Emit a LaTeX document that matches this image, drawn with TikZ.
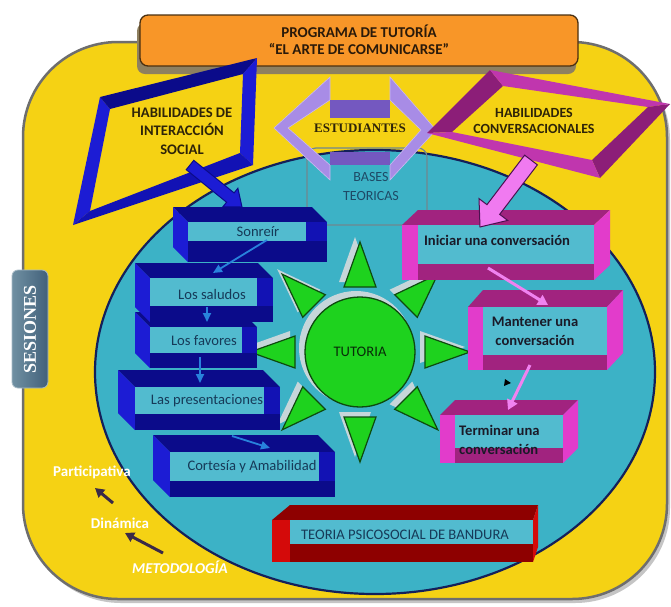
\documentclass[tikz,border=0pt]{standalone}
\usepackage{fontspec}
\setmainfont{Carlito}
\newfontfamily\serifbold{Liberation Serif}
\usepackage{tikz}
\usetikzlibrary{calc,arrows.meta}
\definecolor{sunyellow}{HTML}{F5D214}
\definecolor{framegray}{HTML}{6E6E6E}
\definecolor{lagoon}{HTML}{3CB2C6}
\definecolor{rimnavy}{HTML}{14205A}
\definecolor{facecyan}{HTML}{52BBCF}
\definecolor{titleorange}{HTML}{F89628}
\definecolor{titleedge}{HTML}{4A3010}
\definecolor{titleshadow}{HTML}{8E8060}
\definecolor{titleink}{HTML}{2A1A0A}
\definecolor{slatelight}{HTML}{7090A2}
\definecolor{slatedark}{HTML}{41607A}
\definecolor{navyface}{HTML}{0B0B8A}
\definecolor{royalface}{HTML}{1C1CD4}
\definecolor{midblue}{HTML}{1212B4}
\definecolor{plumface}{HTML}{A1237F}
\definecolor{orchidface}{HTML}{E23CCB}
\definecolor{plumdark}{HTML}{8C1E78}
\definecolor{magentaband}{HTML}{C036AE}
\definecolor{lavband}{HTML}{A88CE6}
\definecolor{lavdark}{HTML}{7458C0}
\definecolor{sungreen}{HTML}{1ED21E}
\definecolor{sunedge}{HTML}{0E4A0E}
\definecolor{sunshade}{HTML}{C6D6DA}
\definecolor{wine}{HTML}{8E0000}
\definecolor{scarlet}{HTML}{D40A0A}
\definecolor{labelink}{HTML}{163A58}
\definecolor{inkdark}{HTML}{1A1A28}
\definecolor{inkbrown}{HTML}{2E2408}
\definecolor{basesline}{HTML}{6F8790}
\definecolor{basesink}{HTML}{1E4A66}
\definecolor{skyline}{HTML}{2882DC}
\definecolor{pinklink}{HTML}{F082F0}
\definecolor{darklink}{HTML}{3A2A48}
\definecolor{pinkarrow}{HTML}{F07AF0}
\definecolor{arrowedge}{HTML}{4A1050}
\tikzstyle{cube text}=[inner sep=0pt, text=labelink, font=\fontsize{14.6}{17}\selectfont]
\tikzstyle{plum text}=[inner sep=0pt, text=inkdark, font=\fontsize{14.6}{19}\selectfont\bfseries, align=center]
\tikzstyle{frame text}=[inner sep=0pt, text=inkbrown, font=\fontsize{14.6}{18.5}\selectfont\bfseries, align=center]
\tikzstyle{white text}=[inner sep=0pt, text=white, font=\fontsize{15}{17}\selectfont\bfseries]
\tikzstyle{sky link}=[draw=skyline, line width=1.8pt, -{Triangle[width=8pt,length=9pt]}]
\tikzstyle{pink link}=[draw=pinklink, line width=3pt, -{Triangle[width=11pt,length=10pt]}]
\tikzstyle{dark link}=[draw=darklink, line width=3pt, -{Triangle[width=10pt,length=9pt]}]
% box seen from the left: x1 y1 x2 y2 depth band
\newcommand{\bluecube}[6]{%
  \fill[navyface] (#1,#2) -- ({#3-#5},#2) -- (#3,{#2+#5}) -- ({#1+#5},{#2+#5}) -- cycle;
  \fill[royalface] (#1,#2) -- ({#1+#5},{#2+#5}) -- ({#1+#5},#4) -- (#1,{#4-#5}) -- cycle;
  \fill[midblue] ({#1+#5},{#2+#5}) rectangle (#3,#4);
  \fill[navyface] ({#1+#5},{#4-#6}) rectangle (#3,#4);
  \fill[facecyan] ({#1+#5},{#2+#5}) rectangle ({#3-#6},{#4-#6});}
% box seen from the right: x1 y1 x2 y2 dx dy band top side
\newcommand{\plumcube}[9]{%
  \fill[#8] (#1,{#2+#6}) -- ({#1+#7},#2) -- (#3,#2) -- ({#3-#5},{#2+#6}) -- cycle;
  \fill[#9] ({#3-#5},{#2+#6}) -- (#3,#2) -- (#3,{#4-#6}) -- ({#3-#5},#4) -- cycle;
  \fill[#9] (#1,{#2+#6}) rectangle ({#1+#7},#4);
  \fill[#8] ({#1+#7},{#4-#7}) rectangle ({#3-#5},#4);
  \fill[facecyan] ({#1+#7},{#2+#6}) rectangle ({#3-#5},{#4-#7});}
% wide arrow: style from to shaft head headlength
\newcommand{\fatarrow}[6]{%
  \path ($(#3)!#6!(#2)$) coordinate (fa-h);
  \draw[#1] ($(#2)!#4!90:(#3)$) -- ($(fa-h)!#4!-90:(#2)$) -- ($(fa-h)!#5!-90:(#2)$) -- (#3)
    -- ($(fa-h)!#5!90:(#2)$) -- ($(fa-h)!#4!90:(#2)$) -- ($(#2)!#4!-90:(#3)$) -- cycle;}
\begin{document}
\begin{tikzpicture}[x=1pt,y=-1pt]\fontsize{14.6}{17}\selectfont
\useasboundingbox (0,0) rectangle (671,606);
\fill[white] (0,0) rectangle (671,606);

% yellow board and side tab
\fill[framegray!40, rounded corners=95pt] (26,45) rectangle (670,603);
\draw[fill=sunyellow, draw=framegray, line width=2.5pt, rounded corners=95pt] (23,42) rectangle (667,599);
\shade[left color=slatelight, right color=slatedark, rounded corners=6pt] (12,270) rectangle (48,388);
\draw[slatelight!60!white, line width=0.8pt, rounded corners=6pt] (12,270) rectangle (48,388);
\node[rotate=90, inner sep=0pt, text=white, font={\serifbold\fontsize{18}{18}\selectfont\bfseries}] (sesiones) at (30,329) {SESIONES};

% title
\fill[titleshadow, rounded corners=8pt] (137,23) rectangle (576,74);
\draw[fill=titleorange, draw=titleedge, line width=1.3pt, rounded corners=8pt] (140,15) rectangle (578,66);
\node[frame text, text=titleink, font=\fontsize{15}{17}\selectfont\bfseries] (title) at (359,39.5) {PROGRAMA DE TUTORÍA\\“EL ARTE DE COMUNICARSE”};

% big oval
\draw[fill=lagoon, draw=rimnavy, line width=2.2pt] (375,372) ellipse [x radius=280pt, y radius=222pt];
\draw[draw=basesline, line width=1.2pt, rounded corners=9pt] (307,148) rectangle (427,225);
\node[cube text, text=basesink, align=center, font=\fontsize{14}{19}\selectfont] (bases) at (371,186.5) {BASES\\TEORICAS};

% estudiantes ring
\draw[fill=lavband, draw=lavband!60!white, line width=0.6pt] (330,77) -- (274,128) -- (330,180) -- (330,165) -- (288,128) -- (330,100) -- cycle;
\draw[fill=lavband, draw=lavband!60!white, line width=0.6pt] (390,77) -- (436,130) -- (390,180) -- (390,165) -- (421,130) -- (390,100) -- cycle;
\fill[lavdark] (330,100) rectangle (390,118);
\fill[lavdark] (330,152) rectangle (390,165);
\node[inner sep=0pt, text=inkbrown, font={\serifbold\fontsize{13}{15}\selectfont\bfseries}] (estudiantes) at (360,128) {ESTUDIANTES};

% skill frames
\fill[royalface] (100,97) -- (110,109) -- (90,211) -- (73,225) -- cycle;
\fill[navyface] (100,97) -- (257,58) -- (243,74) -- (110,109) -- cycle;
\fill[royalface] (257,58) -- (253,165) -- (240,153) -- (243,74) -- cycle;
\fill[midblue] (73,225) -- (90,211) -- (240,153) -- (253,165) -- cycle;
\node[frame text] (social) at (182,131) {HABILIDADES DE\\INTERACCIÓN\\SOCIAL};
\fill[plumdark] (427,133) -- (490,70) -- (503,86) -- (452,132) -- cycle;
\fill[magentaband] (490,70) -- (670,104) -- (648,107) -- (503,86) -- cycle;
\fill[plumdark] (670,104) -- (600,178) -- (592,160) -- (648,107) -- cycle;
\fill[magentaband] (600,178) -- (427,133) -- (452,132) -- (592,160) -- cycle;
\node[frame text, font=\fontsize{14}{16}\selectfont\bfseries] (conversacion) at (534,121) {HABILIDADES\\CONVERSACIONALES};

% sun
\coordinate (sunc) at (360,352);
\foreach \a in {0,45,...,315}
  \fill[sunshade] ($(sunc)+(-5,-5)+(\a:110)$) -- ($(sunc)+(-5,-5)+(\a:65)+(\a+90:16)$) -- ($(sunc)+(-5,-5)+(\a:65)+(\a-90:16)$) -- cycle;
\fill[sunshade] ($(sunc)+(-4,-4)$) circle (57);
\foreach \a in {0,45,...,315}
  \draw[fill=sungreen, draw=sunedge, line width=1.2pt] ($(sunc)+(\a:110)$) -- ($(sunc)+(\a:65)+(\a+90:16)$) -- ($(sunc)+(\a:65)+(\a-90:16)$) -- cycle;
\node[circle, draw=sunedge, fill=sungreen, line width=1.3pt, minimum size=110pt, inner sep=0pt, text=sunedge!60!black] (tutoria) at (sunc) {TUTORIA};

% blue steps
\foreach \xa/\ya/\xb/\yb/\dep/\band in {153/435/335/497/17/16, 118/370/280/430/17/16, 135/312/257/368/15/15, 135/263/273/322/15/16, 173/207/327/262/15/21}
  \bluecube{\xa}{\ya}{\xb}{\yb}{\dep}{\band};
\foreach \pos/\name/\txt in {(258,232)/sonreir/Sonreír, (212,294)/saludos/Los saludos, (204,341)/favores/Los favores, (207,401)/presentaciones/Las presentaciones, (252,467)/cortesia/Cortesía y Amabilidad}
  \node[cube text] (\name) at \pos {\txt};
\coordinate (sonreir-tail) at (267,240); \coordinate (saludos-head) at (213,273);
\coordinate (saludos-tail) at (207,307); \coordinate (favores-head) at (207,322);
\coordinate (favores-tail) at (200,357); \coordinate (present-head) at (200,383);
\coordinate (present-tail) at (232,436); \coordinate (cortesia-head) at (270,448);
\foreach \source/\dest in {sonreir-tail/saludos-head, saludos-tail/favores-head, favores-tail/present-head, present-tail/cortesia-head}
  \path[sky link] (\source) -- (\dest);

% pink steps
\plumcube{402}{210}{610}{280}{16}{15}{16}{plumface}{orchidface}
\plumcube{468}{290}{623}{370}{16}{17}{15}{plumface}{orchidface}
\plumcube{440}{400}{578}{463}{15}{15}{15}{plumface}{orchidface}
\node[plum text] (iniciar) at (497,240) {Iniciar una conversación};
\node[plum text] (mantener) at (535,331.5) {Mantener una\\conversación};
\node[plum text, anchor=west, align=left] (terminar) at (459,439.5) {Terminar una\\conversación};
\coordinate (iniciar-tail) at (488,268); \coordinate (mantener-head) at (548,305);
\coordinate (mantener-tail) at (530,365); \coordinate (terminar-head) at (508,410);
\foreach \source/\dest in {iniciar-tail/mantener-head, mantener-tail/terminar-head}
  \path[pink link] (\source) -- (\dest);
\fill[black] (505,379) -- (511,383) -- (504,386) -- cycle;

% bandura
\plumcube{272}{505}{538}{562}{5}{15}{18}{wine}{scarlet}
\node[cube text] (bandura) at (405,535) {TEORIA PSICOSOCIAL DE BANDURA};

% wide arrows
\coordinate (social-tail) at (190,165); \coordinate (sonreir-head) at (242,207);
\coordinate (conv-tail) at (531,160); \coordinate (iniciar-head) at (480,227);
\fatarrow{fill=royalface, draw=navyface, line width=1pt}{social-tail}{sonreir-head}{6pt}{12pt}{15pt}
\fatarrow{fill=pinkarrow, draw=arrowedge, line width=1pt}{conv-tail}{iniciar-head}{8pt}{18pt}{22pt}

% method
\node[white text] (participativa) at (92,472) {Participativa};
\node[white text] (dinamica) at (120,523) {Dinámica};
\node[white text, font=\fontsize{15}{17}\selectfont\bfseries\itshape] (metodologia) at (180,567) {METODOLOGÍA};
\coordinate (dina-tail) at (113,503); \coordinate (parti-head) at (95,488);
\coordinate (meto-tail) at (163,553); \coordinate (dina-head) at (125,533);
\foreach \source/\dest in {dina-tail/parti-head, meto-tail/dina-head}
  \path[dark link] (\source) -- (\dest);

\end{tikzpicture}
\end{document}
